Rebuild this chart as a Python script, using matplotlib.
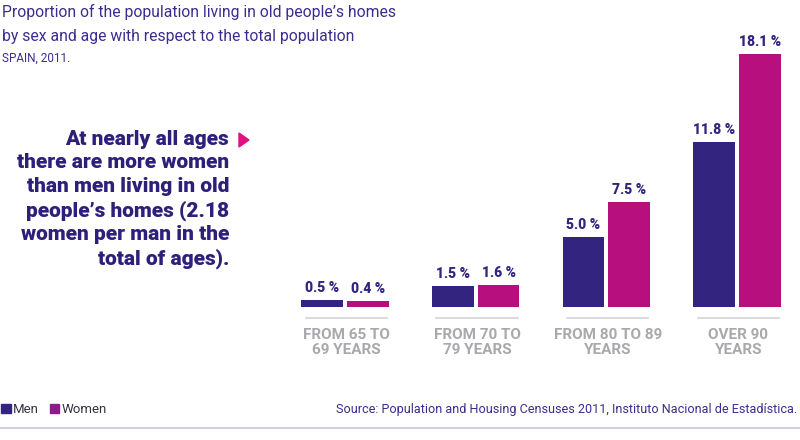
import matplotlib.pyplot as plt
from matplotlib.patches import Rectangle, Polygon
from matplotlib.lines import Line2D

# data
age_groups = ["FROM 65 TO\n69 YEARS", "FROM 70 TO\n79 YEARS", "FROM 80 TO 89\nYEARS", "OVER 90\nYEARS"]
men = [0.5, 1.5, 5.0, 11.8]
women = [0.4, 1.6, 7.5, 18.1]
series_names = ["Men", "Women"]

MEN_COL = "#32247f"
WOMEN_COL = "#b80f7e"
TEXT_COL = "#3a2d8f"
GREY = "#a9a9ad"

W, H = 800, 440
fig = plt.figure(figsize=(W / 100, H / 100), dpi=100)

def px(x, y):
    # figure fraction from pixel coords measured from top-left
    return x / W, 1 - y / H

# axes so that baseline sits at y=307px and 14px per percent
ax_left, ax_right = 280, 800
ax_top, ax_base = 30, 307
ax = fig.add_axes([ax_left / W, 1 - ax_base / H, (ax_right - ax_left) / W, (ax_base - ax_top) / H])
spacing = 130.7
c0 = 345
ax.set_xlim((ax_left - c0) / spacing, (ax_right - c0) / spacing)
ppu = 14.0
ax.set_ylim(0, (ax_base - ax_top) / ppu)
ax.axis("off")

xs = list(range(len(age_groups)))
bw = 0.318
off = 0.175
ax.bar([x - off for x in xs], men, width=bw, color=MEN_COL)
ax.bar([x + off for x in xs], women, width=bw, color=WOMEN_COL)

lab_font = dict(family=["Roboto", "DejaVu Sans"], fontweight="black", fontsize=10, color=MEN_COL)
for i, x in enumerate(xs):
    m, w = men[i], women[i]
    ax.text(x - off, m + 5 / ppu, f"{m:.1f} %", ha="center", va="bottom", **lab_font)
    ax.text(x + off, w + 5 / ppu, f"{w:.1f} %", ha="center", va="bottom", **lab_font)
    ax.plot([x - 0.3, x + 0.32], [-11 / ppu, -11 / ppu], color="#d4d4d8", lw=1.2, clip_on=False)
    ax.text(x + 0.01, -21 / ppu, age_groups[i], ha="center", va="top", color=GREY,
            fontsize=11, fontweight="bold", family=["Roboto", "DejaVu Sans"], linespacing=1.1,
            clip_on=False)

# titles
title_font = dict(ha="left", va="center", color=TEXT_COL, family=["Roboto", "DejaVu Sans"])
fig.text(*px(2, 12), "Proportion of the population living in old people\u2019s homes",
         fontsize=11.3, **title_font)
fig.text(*px(2, 36), "by sex and age with respect to the total population",
         fontsize=11.3, **title_font)
fig.text(*px(2, 58), "SPAIN, 2011.", fontsize=8.5, **title_font)

# annotation
note = ("At nearly all ages\nthere are more women\nthan men living in old\n"
        "people\u2019s homes (2.18\nwomen per man in the\ntotal of ages).")
fig.text(*px(229, 130), note, ha="right", va="top", fontsize=15, fontweight="black",
         color="#2e1f7a", family=["Roboto", "DejaVu Sans"], linespacing=1.29)
tri = Polygon([px(239, 133), px(239, 147), px(249, 140)], closed=True,
              transform=fig.transFigure, color="#e0107f")
fig.patches.append(tri)

# legend
leg_font = dict(ha="left", va="center", fontsize=9.5, color="#333340", family=["Roboto", "DejaVu Sans"])
fig.patches.append(Rectangle(px(1, 413), 10 / W, 9 / H, transform=fig.transFigure, color=MEN_COL))
fig.text(*px(13, 409), series_names[0], **leg_font)
fig.patches.append(Rectangle(px(50, 413), 9 / W, 9 / H, transform=fig.transFigure, color="#8c1a8c"))
fig.text(*px(62, 409), series_names[1], **leg_font)

fig.text(*px(797, 409), "Source: Population and Housing Censuses 2011, Instituto Nacional de Estad\u00edstica.",
         ha="right", va="center", fontsize=9.1, color=TEXT_COL,
         family=["Roboto", "DejaVu Sans"])

fig.add_artist(Line2D([0, 1], [1 - 428 / H, 1 - 428 / H], transform=fig.transFigure,
                      color="#c9c5e0", lw=1.2))

fig.savefig("out.png", dpi=100)
